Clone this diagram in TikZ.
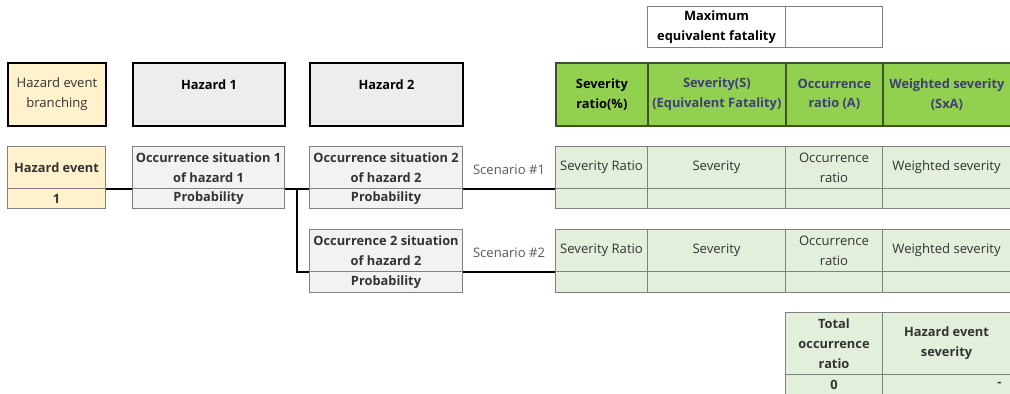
\documentclass[tikz,border=0pt]{standalone}
\usepackage{fontspec}
\setmainfont{Open Sans}
\usetikzlibrary{calc}

\begin{document}
\begin{tikzpicture}[x=0.02cm, y=-0.02cm]

    % Colours of the worksheet
    \definecolor{evtcol}{RGB}{255,242,204}
    \definecolor{hzcol}{RGB}{237,237,237}
    \definecolor{occcol}{RGB}{242,242,242}
    \definecolor{hdrcol}{RGB}{146,208,80}
    \definecolor{hdrline}{RGB}{62,84,40}
    \definecolor{cellcol}{RGB}{226,239,218}
    \definecolor{inputtxt}{RGB}{63,63,118}
    \definecolor{gridcol}{RGB}{128,128,128}

    % Common cell styles
    \tikzset{
        sheet/.style={font=\fontsize{7.45}{11.3}\selectfont, align=center,
            anchor=north west, inner sep=1pt, text=black!80},
        bold/.style={font=\fontsize{7.3}{11.3}\selectfont\bfseries},
        wh/.style 2 args={minimum width=#1*0.02cm, minimum height=#2*0.02cm},
        hdrbox/.style={sheet, draw=black, line width=1.1pt},
        cellbox/.style={sheet, draw=gridcol, line width=0.6pt},
        greenhdr/.style={sheet, bold, fill=hdrcol, draw=hdrline,
            line width=1pt, text=inputtxt},
        greencell/.style={cellbox, fill=cellcol},
        link/.style={line width=1pt, black},
        scen/.style={font=\fontsize{7.45}{11.3}\selectfont, text=black!65, inner sep=0pt}
    }

    \useasboundingbox (0,0) rectangle (1010,393);

    % ================= Maximum equivalent fatality =================
    \node[cellbox, bold, text=black, wh={138}{41}, fill=white] (maxlbl) at (647,6)
        {Maximum\\equivalent fatality};
    \node[cellbox, wh={97}{41}, fill=white] (maxval) at (785,6) {};

    % ======================== Column headers ========================
    \node[hdrbox, wh={98}{63}, fill=evtcol] (branch) at (7,62)
        {Hazard event\\branching};
    \node[hdrbox, bold, text=black, wh={152}{63}, fill=hzcol] (hz1) at (132,62)
        {Hazard 1\\\mbox{}};
    \node[hdrbox, bold, text=black, wh={153}{63}, fill=hzcol] (hz2) at (309,62)
        {Hazard 2\\\mbox{}};

    \node[greenhdr, text=black, wh={92}{63}] (hsr) at (555,62) {Severity\\ratio(\%)};
    \node[greenhdr, wh={138}{63}] (hsev) at (647,62) {Severity(S)\\(Equivalent Fatality)};
    \node[greenhdr, wh={97}{63}] (hocc) at (785,62) {Occurrence\\ratio (A)};
    \node[greenhdr, wh={128}{63}] (hws) at (882,62) {Weighted severity\\(SxA)};

    % ========================== Scenario 1 ==========================
    \node[cellbox, bold, wh={98}{42}, fill=evtcol] (evt) at (7,146) {Hazard event};
    \node[cellbox, bold, wh={98}{20}, fill=evtcol] (evtp) at (7,188) {1};
    \node[cellbox, bold, wh={152}{42}, fill=occcol] (occa) at (132,146)
        {Occurrence situation 1\\of hazard 1};
    \node[cellbox, bold, wh={152}{20}, fill=occcol] (occap) at (132,188) {Probability};
    \node[cellbox, bold, wh={153}{42}, fill=occcol] (occb) at (309,146)
        {Occurrence situation 2\\of hazard 2};
    \node[cellbox, bold, wh={153}{20}, fill=occcol] (occbp) at (309,188) {Probability};

    \node[greencell, wh={92}{42}] (ga) at (555,146) {Severity Ratio};
    \node[greencell, wh={138}{42}] (gb) at (647,146) {Severity};
    \node[greencell, wh={97}{42}] (gc) at (785,146) {Occurrence\\ratio};
    \node[greencell, wh={128}{42}] (gd) at (882,146) {Weighted severity};
    \node[greencell, wh={92}{20}] (gap) at (555,188) {};
    \node[greencell, wh={138}{20}] (gbp) at (647,188) {};
    \node[greencell, wh={97}{20}] (gcp) at (785,188) {};
    \node[greencell, wh={128}{20}] (gdp) at (882,188) {};

    % ========================== Scenario 2 ==========================
    \node[cellbox, bold, wh={153}{42}, fill=occcol] (occc) at (309,229)
        {Occurrence 2 situation\\of hazard 2};
    \node[cellbox, bold, wh={153}{21}, fill=occcol] (occcp) at (309,271) {Probability};

    \node[greencell, wh={92}{42}] (ka) at (555,229) {Severity Ratio};
    \node[greencell, wh={138}{42}] (kb) at (647,229) {Severity};
    \node[greencell, wh={97}{42}] (kc) at (785,229) {Occurrence\\ratio};
    \node[greencell, wh={128}{42}] (kd) at (882,229) {Weighted severity};
    \node[greencell, wh={92}{21}] (kap) at (555,271) {};
    \node[greencell, wh={138}{21}] (kbp) at (647,271) {};
    \node[greencell, wh={97}{21}] (kcp) at (785,271) {};
    \node[greencell, wh={128}{21}] (kdp) at (882,271) {};

    % ======================= Branch connectors ======================
    \draw[link] (evt.south east) -- (occa.south west);
    \draw[link] (occa.south east) -- (occb.south west);
    \coordinate (split) at ($(occa.south east)!0.5!(occb.south west)$);
    \draw[link] (split) |- (occc.south west);
    \draw[link] (occb.south east) -- node[scen, midway, above=8pt] (sc1) {Scenario \#1} (ga.south west);
    \draw[link] (occc.south east) -- node[scen, midway, above=8pt] (sc2) {Scenario \#2} (ka.south west);

    % ========================== Event total =========================
    \node[greencell, bold, wh={97}{62}] (tot) at (785,312) {Total\\occurrence\\ratio};
    \node[greencell, bold, wh={128}{62}] (sev) at (882,312) {Hazard event\\severity};
    \node[greencell, bold, wh={97}{20}] (totv) at (785,374) {0};
    \node[greencell, bold, wh={128}{20}, text width=110*0.02cm, align=right] (sevv) at (882,374) {-};

\end{tikzpicture}
\end{document}
